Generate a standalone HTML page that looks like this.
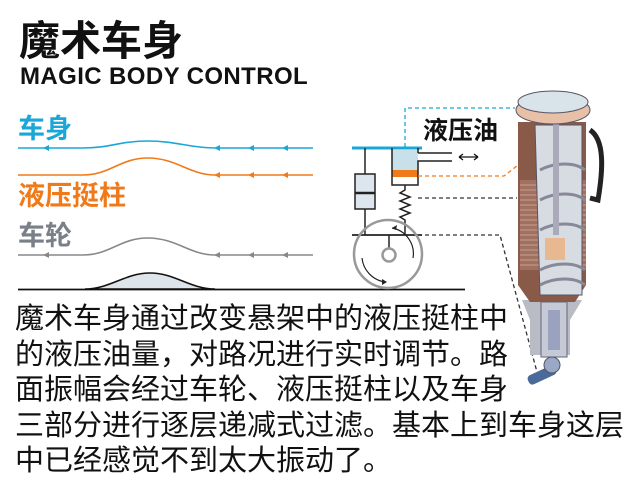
<!DOCTYPE html>
<html><head><meta charset="utf-8"><style>
html,body{margin:0;padding:0;background:#fff;}
body{width:630px;height:494px;position:relative;overflow:hidden;font-family:"Liberation Sans","Noto Sans CJK SC",sans-serif;}
.t{position:absolute;white-space:nowrap;}
</style></head><body>
<svg width="630" height="494" style="position:absolute;left:0;top:0" xmlns="http://www.w3.org/2000/svg">
<g fill="none" stroke-width="1.6">
<path d="M18 148 L83 148 C110 148 120 141 148 141 C176 141 190 148 215 148 L313 148" stroke="#1aa7d8"/>
<path d="M18 175 L83 175 C110 175 120 158 148 158 C176 158 190 175 215 175 L313 175" stroke="#f07a1a"/>
<path d="M18 255 L83 255 C110 255 120 238 148 238 C176 238 190 255 215 255 L313 255" stroke="#888"/>
</g>
<g>
<path d="M43 148 l6 -3 v6z M214 148 l6 -3 v6z M248 148 l6 -3 v6z M282 148 l6 -3 v6z" fill="#1aa7d8"/>
<path d="M214 175 l6 -3 v6z M248 175 l6 -3 v6z M282 175 l6 -3 v6z" fill="#f07a1a"/>
<path d="M43 255 l6 -3 v6z M214 255 l6 -3 v6z M248 255 l6 -3 v6z M282 255 l6 -3 v6z" fill="#888"/>
</g>
<path d="M85 289 C110 289 125 273 150 273 C175 273 190 289 215 289Z" fill="#dde4ea" stroke="#111" stroke-width="1.6"/>
<line x1="18" y1="289.5" x2="465" y2="289.5" stroke="#111" stroke-width="1.8"/>
<line x1="352" y1="148" x2="422" y2="148" stroke="#1aa7d8" stroke-width="3"/>
<line x1="365" y1="148" x2="365" y2="235" stroke="#222" stroke-width="1.5"/>
<rect x="355" y="174" width="20" height="35" fill="#dde6ee" stroke="#222" stroke-width="1.5"/>
<line x1="355" y1="193" x2="375" y2="193" stroke="#222" stroke-width="2.5"/>
<rect x="392" y="150" width="26" height="20" fill="#c8e0ea"/>
<rect x="392" y="170" width="26" height="7" fill="#f07a1a"/>
<path d="M392 148 V185 H418 V161 H452 M418 153 H452 M418 148 V153" fill="none" stroke="#222" stroke-width="1.5"/>
<path d="M459 157 H478 M459 157 l4 -3 M459 157 l4 3 M478 157 l-4 -3 M478 157 l-4 3" stroke="#111" stroke-width="1.3" fill="none"/>
<path d="M405 185 V190 l-5 3 l10 4 l-10 4 l10 4 l-10 4 l10 4 l-10 4 l5 3 V235" fill="none" stroke="#222" stroke-width="1.5"/>
<line x1="352" y1="235" x2="422" y2="235" stroke="#222" stroke-width="1.8"/>
<circle cx="388" cy="254" r="34" fill="none" stroke="#999" stroke-width="2.5"/>
<line x1="389" y1="235" x2="389" y2="248" stroke="#222" stroke-width="1.5"/>
<circle cx="389" cy="255" r="6.5" fill="#fff" stroke="#999" stroke-width="2.5"/>
<path d="M392 228 A26 26 0 0 1 413 258" fill="none" stroke="#222" stroke-width="1.2"/>
<path d="M392 228 l5 -3 l-1 5z" fill="#222"/>
<path d="M362 258 A27 27 0 0 0 385 282" fill="none" stroke="#222" stroke-width="1.2"/>
<path d="M387 282 l-5 -3 l0 6z" fill="#222"/>
<g fill="none" stroke-width="1.3" stroke-dasharray="4 3">
<path d="M405 147 V108 H515" stroke="#1aa7d8"/>
<path d="M418 176 H504 L522 162" stroke="#f07a1a"/>
<path d="M418 198 H517" stroke="#333"/>
<path d="M418 235 H500 L537 372" stroke="#333"/>
</g>
<path d="M522 300 L530 320 V355 H570 V320 L582 300Z" fill="#b9bcc4"/>
<rect x="541" y="302" width="26" height="55" fill="#c5cad6" stroke="#667" stroke-width="1"/>
<rect x="548" y="310" width="12" height="40" fill="#9aa2c0"/>
<path d="M590 130 C605 140 603 170 598 200 L590 198" fill="none" stroke="#222" stroke-width="5"/>
<path d="M518 122 H586 V285 L575 302 H530 L518 285Z" fill="#8a5a48"/>
<path d="M520 180 H586 V270 H520Z" fill="#a07060"/>
<g stroke="#c9a090" stroke-width="1">
<path d="M520 185 H586 M520 190 H586 M520 195 H586 M520 200 H586 M520 205 H586 M520 210 H586 M520 215 H586 M520 220 H586 M520 225 H586 M520 230 H586 M520 235 H586 M520 240 H586 M520 245 H586 M520 250 H586 M520 255 H586 M520 260 H586 M520 265 H586"/>
</g>
<path d="M535 125 H582 V295 H540Z" fill="#d7dbe2" stroke="#556" stroke-width="1"/>
<path d="M540 170 C555 162 575 162 585 170 M540 200 C555 192 575 192 585 200 M540 230 C555 222 575 222 585 230 M540 270 C555 262 575 262 585 270 M540 285 C555 277 575 277 585 285" fill="none" stroke="#889" stroke-width="3"/>
<rect x="545" y="238" width="20" height="22" fill="#e8b890"/>
<rect x="553" y="95" width="6" height="140" fill="#aab"/>
<ellipse cx="553" cy="110" rx="37" ry="14" fill="#e8c0a8" stroke="#556" stroke-width="1"/>
<ellipse cx="553" cy="102" rx="35" ry="11" fill="#d8e4ea" stroke="#556" stroke-width="1"/>
<rect x="527" y="370" width="30" height="10" rx="4" fill="#4a6a9a" transform="rotate(-25 542 375)"/>
<circle cx="552" cy="365" r="8" fill="#9aa8c8" stroke="#556"/>
</svg>
<div class="t" style="left:19px;top:18px;font-size:41px;font-weight:bold;color:#111;line-height:46px;">魔术车身</div>
<div class="t" style="left:20px;top:63px;font-size:24px;font-weight:bold;color:#111;line-height:27px;letter-spacing:0.4px;">MAGIC BODY CONTROL</div>
<div class="t" style="left:18px;top:113px;font-size:27px;font-weight:bold;color:#1aa7d8;line-height:32px;">车身</div>
<div class="t" style="left:18px;top:180px;font-size:27px;font-weight:bold;color:#f07a1a;line-height:32px;">液压挺柱</div>
<div class="t" style="left:18px;top:220px;font-size:27px;font-weight:bold;color:#7a8088;line-height:32px;">车轮</div>
<div class="t" style="left:423px;top:116px;font-size:25px;font-weight:bold;color:#111;line-height:30px;">液压油</div>
<div class="t" style="left:15px;top:302px;font-size:29px;color:#111;line-height:35.5px;">魔术车身通过改变悬架中的液压挺柱中<br>的液压油量，对路况进行实时调节。路<br>面振幅会经过车轮、液压挺柱以及车身<br>三部分进行逐层递减式过滤。基本上到车身这层<br>中已经感觉不到太大振动了。</div>
</body></html>
